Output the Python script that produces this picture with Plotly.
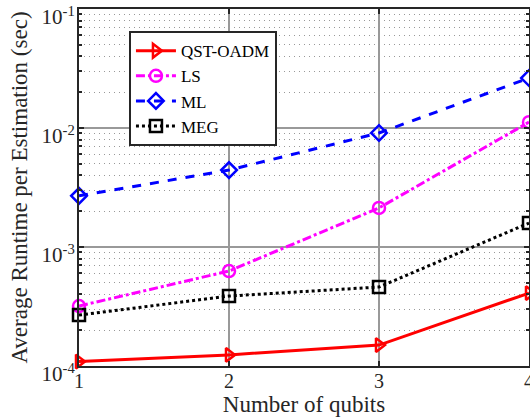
import plotly.graph_objects as go

qubits = [1, 2, 3, 4]
qst_oadm = [1.09e-4, 1.24e-4, 1.50e-4, 4.1e-4]
ls_vals = [3.19e-4, 6.28e-4, 2.13e-3, 1.12e-2]
ml_vals = [2.69e-3, 4.43e-3, 9.08e-3, 2.63e-2]
meg_vals = [2.68e-4, 3.87e-4, 4.61e-4, 1.59e-3]

y_major = [1e-4, 1e-3, 1e-2, 1e-1]
y_major_text = ["10<sup>-4</sup>", "10<sup>-3</sup>", "10<sup>-2</sup>", "10<sup>-1</sup>"]
y_minor = [m * d for d in [1e-4, 1e-3, 1e-2] for m in range(2, 10)]

FONT = "Liberation Serif"
AX = "#262626"

fig = go.Figure()
series = [
    ("QST-OADM", qst_oadm, "red", "solid", "triangle-right-open"),
    ("LS", ls_vals, "magenta", "dashdot", "circle-open"),
    ("ML", ml_vals, "blue", "dash", "diamond-open"),
    ("MEG", meg_vals, "black", "dot", "square-open"),
]
for name, vals, col, dash, sym in series:
    fig.add_trace(go.Scatter(
        x=qubits, y=vals, name=name, mode="lines+markers",
        line=dict(color=col, width=3, dash=dash),
        marker=dict(symbol=sym, size=12, color=col, line=dict(width=2.5, color=col)),
        cliponaxis=False,
    ))

fig.update_layout(
    width=530, height=417,
    margin=dict(l=79, r=1, t=9, b=51),
    paper_bgcolor="white", plot_bgcolor="white",
    font=dict(family=FONT, size=21, color=AX),
    showlegend=True,
    legend=dict(
        x=0.111, y=0.938, xanchor="left", yanchor="top",
        bgcolor="white", bordercolor=AX, borderwidth=2,
        font=dict(family=FONT, size=17, color="black"),
        tracegroupgap=0, itemwidth=40,
    ),
)
fig.update_xaxes(
    range=[1, 4], tickvals=qubits, ticktext=[str(q) for q in qubits],
    showline=True, linecolor=AX, linewidth=2, mirror="ticks",
    ticks="inside", ticklen=5, tickcolor=AX, tickwidth=1.5,
    showgrid=True, gridcolor="#999999", gridwidth=2,
    zeroline=False, automargin=False, ticklabeloverflow="allow",
    ticklabelstandoff=-4,
    title=dict(text="Number of qubits", standoff=4, font=dict(family=FONT, size=23)),
    tickfont=dict(family=FONT, size=20),
)
fig.update_yaxes(
    type="log", range=[-4, -1],
    tickvals=y_major, ticktext=y_major_text,
    showline=True, linecolor=AX, linewidth=2, mirror="ticks",
    ticks="inside", ticklen=5, tickcolor=AX, tickwidth=1.5,
    showgrid=True, gridcolor="#999999", gridwidth=2,
    minor=dict(tickvals=y_minor, ticks="inside", ticklen=3, tickcolor=AX,
               showgrid=True, gridcolor="#999999", griddash="1px,4px", gridwidth=1),
    zeroline=False, automargin=False, ticklabeloverflow="allow",
    ticklabelshift=8, ticklabelstandoff=-2,
    title=dict(text="Average Runtime per Estimation (sec)", standoff=7, font=dict(family=FONT, size=23)),
    tickfont=dict(family=FONT, size=21),
)

fig.write_html(
    "out.html",
    config={"displayModeBar": False},
    post_script="document.body.style.margin='0';document.body.style.overflow='hidden';",
)
